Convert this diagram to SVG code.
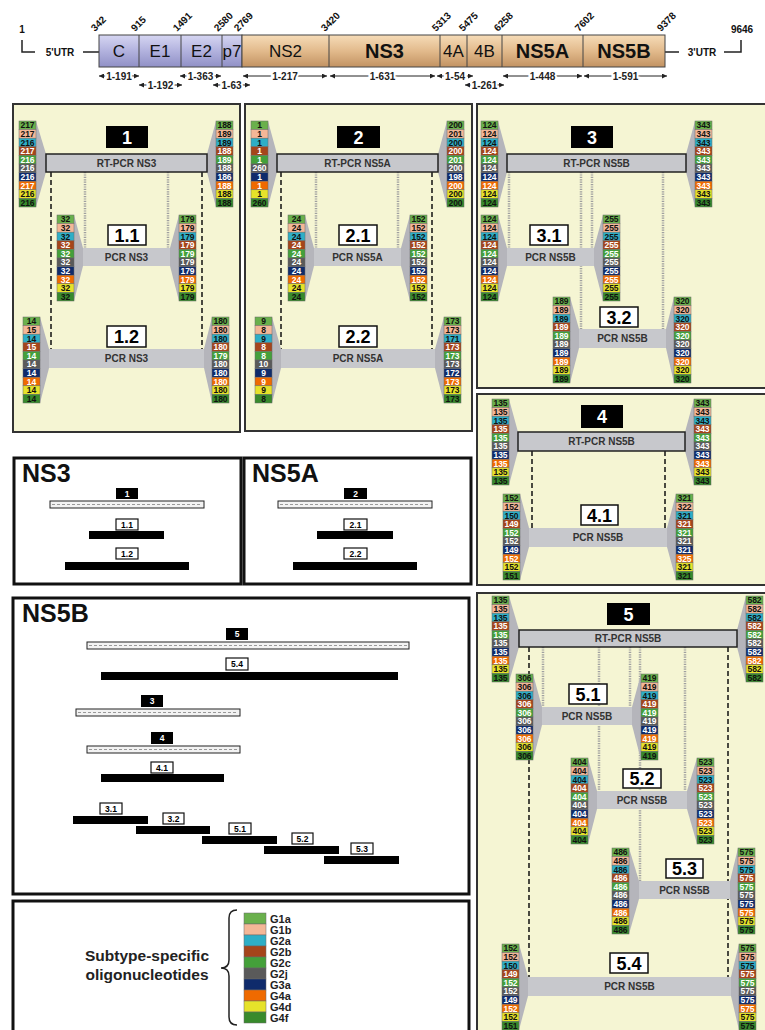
<svg xmlns="http://www.w3.org/2000/svg" xmlns:xlink="http://www.w3.org/1999/xlink" width="765" height="1030" viewBox="0 0 765 1030">
<style>
text{font-family:"Liberation Sans",Arial,sans-serif}
.pan{fill:#f5f5d3;stroke:#333;stroke-width:2}
.box{fill:#fff;stroke:#111;stroke-width:3}
.rt{fill:#c7c8cc;stroke:#222;stroke-width:1.5}
.pcr{fill:#c7c8cc}
.bt{font-size:10px;font-weight:bold;fill:#333;text-anchor:middle}
.blk{fill:#000}
.lab{fill:#fff;stroke:#111;stroke-width:1.5}
.lt{font-size:18px;font-weight:bold;text-anchor:middle;fill:#000}
.lw{font-size:18px;font-weight:bold;text-anchor:middle;fill:#fff}
.fun{fill:#b5b5bb}
.dash{stroke:#111;stroke-width:1.5;stroke-dasharray:5 3;fill:none}
.dot{stroke:#a0a0a0;stroke-width:2.5;stroke-dasharray:1.2 1.2;fill:none}
.k0{fill:#6ab04c}.k1{fill:#f4b797}.k2{fill:#2eaec6}.k3{fill:#a5451b}.k4{fill:#44a03a}
.k5{fill:#5a5a5a}.k6{fill:#0f2b6b}.k7{fill:#ef6a00}.k8{fill:#e6e22a}.k9{fill:#388a2c}
.cb rect{stroke:#6a6a6a;stroke-width:0.5}
.n{font-size:8.5px;font-weight:bold;text-anchor:middle;fill:#111}
.w{fill:#fff}
.gl{font-size:17px;text-anchor:middle;fill:#111}
.gb{font-size:20px;font-weight:bold;text-anchor:middle;fill:#111}
.pos{font-size:10px;font-weight:bold;fill:#111}
.rg{font-size:10px;font-weight:bold;text-anchor:middle;fill:#222;stroke:#fff;stroke-width:4;paint-order:stroke}
.rl{stroke:#222;stroke-width:1;fill:none}
.ttl{font-size:25px;font-weight:bold;fill:#111}
.sb{fill:#000}
.sw{fill:#fff;stroke:#111;stroke-width:1.2}
.dbar{fill:#f2f2f2;stroke:#222;stroke-width:1}
.dl{stroke:#999;stroke-width:1;stroke-dasharray:3 2}
.st{font-size:8.5px;font-weight:bold;text-anchor:middle;fill:#000}
.stw{font-size:8.5px;font-weight:bold;text-anchor:middle;fill:#fff}
.leg{font-size:11px;font-weight:bold;fill:#222}
</style>
<defs>
<linearGradient id="gp" x1="0" y1="0" x2="0" y2="1"><stop offset="0" stop-color="#d6d6f2"/><stop offset="0.5" stop-color="#b2b2de"/><stop offset="1" stop-color="#9090c6"/></linearGradient>
<linearGradient id="gt" x1="0" y1="0" x2="0" y2="1"><stop offset="0" stop-color="#f6dcb8"/><stop offset="0.5" stop-color="#e2ba8c"/><stop offset="1" stop-color="#c29262"/></linearGradient>
<marker id="ah" viewBox="0 0 6 6" refX="6" refY="3" markerWidth="5" markerHeight="5" orient="auto-start-reverse" markerUnits="userSpaceOnUse"><path d="M0,0 L6,3 L0,6z" fill="#222"/></marker>
<g id="cb" class="cb">
<rect class="k0" x="0" y="0" width="17" height="8.6"/>
<rect class="k1" x="0" y="8.6" width="17" height="8.6"/>
<rect class="k2" x="0" y="17.2" width="17" height="8.6"/>
<rect class="k3" x="0" y="25.8" width="17" height="8.6"/>
<rect class="k4" x="0" y="34.4" width="17" height="8.6"/>
<rect class="k5" x="0" y="43" width="17" height="8.6"/>
<rect class="k6" x="0" y="51.6" width="17" height="8.6"/>
<rect class="k7" x="0" y="60.2" width="17" height="8.6"/>
<rect class="k8" x="0" y="68.8" width="17" height="8.6"/>
<rect class="k9" x="0" y="77.4" width="17" height="8.6"/>
</g>
</defs>
<rect width="765" height="1030" fill="#fff"/>

<g id="genome">
<path d="M22,40 V52 H35 M83,52 H99 M665,52 H679 M724,52 H741 V40" stroke="#222" stroke-width="1.5" fill="none"/>
<text x="22" y="33" class="pos" text-anchor="middle" font-size="11">1</text>
<text x="742" y="33" class="pos" text-anchor="middle" font-size="11">9646</text>
<text x="60" y="56" class="pos" text-anchor="middle">5'UTR</text>
<text x="702" y="56" class="pos" text-anchor="middle">3'UTR</text>
<rect x="99" y="35" width="143" height="32" fill="url(#gp)" stroke="#444"/>
<rect x="242" y="35" width="423" height="32" fill="url(#gt)" stroke="#444"/>
<path d="M139,35V67M181,35V67M222,35V67M329,35V67M440,35V67M467,35V67M502,35V67M583,35V67" stroke="#444" stroke-width="1"/>
<text x="119" y="57" class="gl">C</text>
<text x="160" y="57" class="gl">E1</text>
<text x="201.5" y="57" class="gl">E2</text>
<text x="232" y="57" class="gl">p7</text>
<text x="285.5" y="57" class="gl">NS2</text>
<text x="384.5" y="58" class="gb">NS3</text>
<text x="453.5" y="57" class="gl">4A</text>
<text x="484.5" y="57" class="gl">4B</text>
<text x="542.5" y="58" class="gb">NS5A</text>
<text x="624" y="58" class="gb">NS5B</text>
<text class="pos" transform="translate(95,32) rotate(-45)">342</text>
<text class="pos" transform="translate(135,32) rotate(-45)">915</text>
<text class="pos" transform="translate(177,32) rotate(-45)">1491</text>
<text class="pos" transform="translate(218,32) rotate(-45)">2580</text>
<text class="pos" transform="translate(238,32) rotate(-45)">2769</text>
<text class="pos" transform="translate(325,32) rotate(-45)">3420</text>
<text class="pos" transform="translate(436,32) rotate(-45)">5313</text>
<text class="pos" transform="translate(463,32) rotate(-45)">5475</text>
<text class="pos" transform="translate(498,32) rotate(-45)">6258</text>
<text class="pos" transform="translate(579,32) rotate(-45)">7602</text>
<text class="pos" transform="translate(661,32) rotate(-45)">9378</text>
<g marker-start="url(#ah)" marker-end="url(#ah)">
<path class="rl" d="M99,76H139"/><path class="rl" d="M139,85H182"/><path class="rl" d="M180,76H221"/>
<path class="rl" d="M213,85H250"/><path class="rl" d="M243,76H327"/><path class="rl" d="M330,76H435"/>
<path class="rl" d="M437,76H473"/><path class="rl" d="M465,85H504"/><path class="rl" d="M503,76H582"/><path class="rl" d="M584,76H667"/>
</g>
<text x="119" y="79.5" class="rg">1-191</text>
<text x="160.5" y="88.5" class="rg">1-192</text>
<text x="200.5" y="79.5" class="rg">1-363</text>
<text x="231.5" y="88.5" class="rg">1-63</text>
<text x="285" y="79.5" class="rg">1-217</text>
<text x="382.5" y="79.5" class="rg">1-631</text>
<text x="455" y="79.5" class="rg">1-54</text>
<text x="484.5" y="88.5" class="rg">1-261</text>
<text x="542.5" y="79.5" class="rg">1-448</text>
<text x="625.5" y="79.5" class="rg">1-591</text>
</g>

<rect class="pan" x="13" y="104" width="227" height="328"/>
<rect class="pan" x="245" y="104" width="227" height="327"/>
<rect class="pan" x="477" y="104" width="290" height="284"/>
<rect class="pan" x="477" y="394" width="290" height="191"/>
<rect class="pan" x="477" y="593" width="290" height="440"/>

<g id="connectors">
<path class="dash" d="M51,172V349M202,172V349M281,172V349M432,172V349M532,451V528M665,451V528M529,647V977M728,647V977"/>
<path class="dot" d="M85,172V248M168,172V248M316,172V248M398,172V248M509,172V248M592,172V248M581,172V329M663,172V329M543,647V707M630,647V707M599,647V791M685,647V791M640,647V881"/>
</g>

<g id="n1">
<polygon class="fun" points="36,121 46,154 46,172 36,207"/><polygon class="fun" points="216,121 207,154 207,172 216,207"/>
<rect class="rt" x="46" y="154" width="161" height="18"/><text class="bt" x="126.5" y="166.6">RT-PCR NS3</text>
<rect class="blk" x="106" y="126" width="42" height="22"/><text class="lw" x="127" y="143.5">1</text>
<use href="#cb" x="19" y="121"/>
<text class="n" transform="translate(27.5,121)"><tspan x="0" y="7.3">217</tspan><tspan x="0" y="15.9">217</tspan><tspan x="0" y="24.5">216</tspan><tspan x="0" y="33.1" class="w">217</tspan><tspan x="0" y="41.7" class="w">216</tspan><tspan x="0" y="50.3" class="w">216</tspan><tspan x="0" y="58.9" class="w">216</tspan><tspan x="0" y="67.5" class="w">217</tspan><tspan x="0" y="76.1">216</tspan><tspan x="0" y="84.7">216</tspan></text>
<use href="#cb" x="216" y="121"/>
<text class="n" transform="translate(224.5,121)"><tspan x="0" y="7.3">188</tspan><tspan x="0" y="15.9">189</tspan><tspan x="0" y="24.5">189</tspan><tspan x="0" y="33.1" class="w">188</tspan><tspan x="0" y="41.7" class="w">189</tspan><tspan x="0" y="50.3" class="w">188</tspan><tspan x="0" y="58.9" class="w">186</tspan><tspan x="0" y="67.5" class="w">188</tspan><tspan x="0" y="76.1">188</tspan><tspan x="0" y="84.7">188</tspan></text>
</g>
<g id="n1_1">
<polygon class="fun" points="74,215 83,248 83,266 74,301"/><polygon class="fun" points="179,215 170,248 170,266 179,301"/>
<rect class="pcr" x="83" y="248" width="87" height="18"/><text class="bt" x="126.5" y="260.6">PCR NS3</text>
<rect class="lab" x="108" y="225" width="38" height="20"/><text class="lt" x="127" y="241.5">1.1</text>
<use href="#cb" x="57" y="215"/>
<text class="n" transform="translate(65.5,215)"><tspan x="0" y="7.3">32</tspan><tspan x="0" y="15.9">32</tspan><tspan x="0" y="24.5">32</tspan><tspan x="0" y="33.1" class="w">32</tspan><tspan x="0" y="41.7" class="w">32</tspan><tspan x="0" y="50.3" class="w">32</tspan><tspan x="0" y="58.9" class="w">32</tspan><tspan x="0" y="67.5" class="w">32</tspan><tspan x="0" y="76.1">32</tspan><tspan x="0" y="84.7">32</tspan></text>
<use href="#cb" x="179" y="215"/>
<text class="n" transform="translate(187.5,215)"><tspan x="0" y="7.3">179</tspan><tspan x="0" y="15.9">179</tspan><tspan x="0" y="24.5">179</tspan><tspan x="0" y="33.1" class="w">179</tspan><tspan x="0" y="41.7" class="w">179</tspan><tspan x="0" y="50.3" class="w">179</tspan><tspan x="0" y="58.9" class="w">179</tspan><tspan x="0" y="67.5" class="w">179</tspan><tspan x="0" y="76.1">179</tspan><tspan x="0" y="84.7">179</tspan></text>
</g>
<g id="n1_2">
<polygon class="fun" points="40,317 49,349 49,368 40,403"/><polygon class="fun" points="212,317 204,349 204,368 212,403"/>
<rect class="pcr" x="49" y="349" width="155" height="19"/><text class="bt" x="126.5" y="362">PCR NS3</text>
<rect class="lab" x="107" y="326" width="39" height="21"/><text class="lt" x="126.5" y="343">1.2</text>
<use href="#cb" x="23" y="317"/>
<text class="n" transform="translate(31.5,317)"><tspan x="0" y="7.3">14</tspan><tspan x="0" y="15.9">15</tspan><tspan x="0" y="24.5">14</tspan><tspan x="0" y="33.1" class="w">15</tspan><tspan x="0" y="41.7" class="w">14</tspan><tspan x="0" y="50.3" class="w">14</tspan><tspan x="0" y="58.9" class="w">14</tspan><tspan x="0" y="67.5" class="w">14</tspan><tspan x="0" y="76.1">14</tspan><tspan x="0" y="84.7">14</tspan></text>
<use href="#cb" x="212" y="317"/>
<text class="n" transform="translate(220.5,317)"><tspan x="0" y="7.3">180</tspan><tspan x="0" y="15.9">180</tspan><tspan x="0" y="24.5">180</tspan><tspan x="0" y="33.1" class="w">180</tspan><tspan x="0" y="41.7" class="w">179</tspan><tspan x="0" y="50.3" class="w">180</tspan><tspan x="0" y="58.9" class="w">180</tspan><tspan x="0" y="67.5" class="w">180</tspan><tspan x="0" y="76.1">180</tspan><tspan x="0" y="84.7">180</tspan></text>
</g>

<g id="n2">
<polygon class="fun" points="268,121 277,154 277,172 268,207"/><polygon class="fun" points="447,121 438,154 438,172 447,207"/>
<rect class="rt" x="277" y="154" width="161" height="18"/><text class="bt" x="357.5" y="166.6">RT-PCR NS5A</text>
<rect class="blk" x="337" y="126" width="43" height="22"/><text class="lw" x="358.5" y="143.5">2</text>
<use href="#cb" x="251" y="121"/>
<text class="n" transform="translate(259.5,121)"><tspan x="0" y="7.3">1</tspan><tspan x="0" y="15.9">1</tspan><tspan x="0" y="24.5">1</tspan><tspan x="0" y="33.1" class="w">1</tspan><tspan x="0" y="41.7" class="w">1</tspan><tspan x="0" y="50.3" class="w">260</tspan><tspan x="0" y="58.9" class="w">1</tspan><tspan x="0" y="67.5" class="w">1</tspan><tspan x="0" y="76.1">1</tspan><tspan x="0" y="84.7">260</tspan></text>
<use href="#cb" x="447" y="121"/>
<text class="n" transform="translate(455.5,121)"><tspan x="0" y="7.3">200</tspan><tspan x="0" y="15.9">201</tspan><tspan x="0" y="24.5">200</tspan><tspan x="0" y="33.1" class="w">200</tspan><tspan x="0" y="41.7" class="w">201</tspan><tspan x="0" y="50.3" class="w">200</tspan><tspan x="0" y="58.9" class="w">198</tspan><tspan x="0" y="67.5" class="w">200</tspan><tspan x="0" y="76.1">200</tspan><tspan x="0" y="84.7">200</tspan></text>
</g>
<g id="n2_1">
<polygon class="fun" points="305,215 314,248 314,266 305,301"/><polygon class="fun" points="410,215 401,248 401,266 410,301"/>
<rect class="pcr" x="314" y="248" width="87" height="18"/><text class="bt" x="357.5" y="260.6">PCR NS5A</text>
<rect class="lab" x="339" y="225" width="38" height="20"/><text class="lt" x="358" y="241.5">2.1</text>
<use href="#cb" x="288" y="215"/>
<text class="n" transform="translate(296.5,215)"><tspan x="0" y="7.3">24</tspan><tspan x="0" y="15.9">24</tspan><tspan x="0" y="24.5">24</tspan><tspan x="0" y="33.1" class="w">24</tspan><tspan x="0" y="41.7" class="w">24</tspan><tspan x="0" y="50.3" class="w">24</tspan><tspan x="0" y="58.9" class="w">24</tspan><tspan x="0" y="67.5" class="w">24</tspan><tspan x="0" y="76.1">24</tspan><tspan x="0" y="84.7">24</tspan></text>
<use href="#cb" x="410" y="215"/>
<text class="n" transform="translate(418.5,215)"><tspan x="0" y="7.3">152</tspan><tspan x="0" y="15.9">152</tspan><tspan x="0" y="24.5">152</tspan><tspan x="0" y="33.1" class="w">152</tspan><tspan x="0" y="41.7" class="w">152</tspan><tspan x="0" y="50.3" class="w">152</tspan><tspan x="0" y="58.9" class="w">152</tspan><tspan x="0" y="67.5" class="w">152</tspan><tspan x="0" y="76.1">152</tspan><tspan x="0" y="84.7">152</tspan></text>
</g>
<g id="n2_2">
<polygon class="fun" points="272,317 281,349 281,368 272,403"/><polygon class="fun" points="444,317 435,349 435,368 444,403"/>
<rect class="pcr" x="281" y="349" width="154" height="19"/><text class="bt" x="358" y="362">PCR NS5A</text>
<rect class="lab" x="339" y="326" width="38" height="21"/><text class="lt" x="358" y="343">2.2</text>
<use href="#cb" x="255" y="317"/>
<text class="n" transform="translate(263.5,317)"><tspan x="0" y="7.3">9</tspan><tspan x="0" y="15.9">8</tspan><tspan x="0" y="24.5">9</tspan><tspan x="0" y="33.1" class="w">8</tspan><tspan x="0" y="41.7" class="w">8</tspan><tspan x="0" y="50.3" class="w">10</tspan><tspan x="0" y="58.9" class="w">9</tspan><tspan x="0" y="67.5" class="w">9</tspan><tspan x="0" y="76.1">9</tspan><tspan x="0" y="84.7">8</tspan></text>
<use href="#cb" x="444" y="317"/>
<text class="n" transform="translate(452.5,317)"><tspan x="0" y="7.3">173</tspan><tspan x="0" y="15.9">173</tspan><tspan x="0" y="24.5">171</tspan><tspan x="0" y="33.1" class="w">173</tspan><tspan x="0" y="41.7" class="w">173</tspan><tspan x="0" y="50.3" class="w">173</tspan><tspan x="0" y="58.9" class="w">172</tspan><tspan x="0" y="67.5" class="w">173</tspan><tspan x="0" y="76.1">173</tspan><tspan x="0" y="84.7">173</tspan></text>
</g>

<g id="n3">
<polygon class="fun" points="498,121 507,154 507,172 498,207"/><polygon class="fun" points="695,121 686,154 686,172 695,207"/>
<rect class="rt" x="507" y="154" width="179" height="18"/><text class="bt" x="596.5" y="166.6">RT-PCR NS5B</text>
<rect class="blk" x="571" y="126" width="42" height="22"/><text class="lw" x="592" y="143.5">3</text>
<use href="#cb" x="481" y="121"/>
<text class="n" transform="translate(489.5,121)"><tspan x="0" y="7.3">124</tspan><tspan x="0" y="15.9">124</tspan><tspan x="0" y="24.5">124</tspan><tspan x="0" y="33.1" class="w">124</tspan><tspan x="0" y="41.7" class="w">124</tspan><tspan x="0" y="50.3" class="w">124</tspan><tspan x="0" y="58.9" class="w">124</tspan><tspan x="0" y="67.5" class="w">124</tspan><tspan x="0" y="76.1">124</tspan><tspan x="0" y="84.7">124</tspan></text>
<use href="#cb" x="695" y="121"/>
<text class="n" transform="translate(703.5,121)"><tspan x="0" y="7.3">343</tspan><tspan x="0" y="15.9">343</tspan><tspan x="0" y="24.5">343</tspan><tspan x="0" y="33.1" class="w">343</tspan><tspan x="0" y="41.7" class="w">343</tspan><tspan x="0" y="50.3" class="w">343</tspan><tspan x="0" y="58.9" class="w">343</tspan><tspan x="0" y="67.5" class="w">343</tspan><tspan x="0" y="76.1">343</tspan><tspan x="0" y="84.7">343</tspan></text>
</g>
<g id="n3_1">
<polygon class="fun" points="498,215 507,248 507,266 498,301"/><polygon class="fun" points="603,215 594,248 594,266 603,301"/>
<rect class="pcr" x="507" y="248" width="87" height="18"/><text class="bt" x="550.5" y="260.6">PCR NS5B</text>
<rect class="lab" x="530" y="225" width="38" height="20"/><text class="lt" x="549" y="241.5">3.1</text>
<use href="#cb" x="481" y="215"/>
<text class="n" transform="translate(489.5,215)"><tspan x="0" y="7.3">124</tspan><tspan x="0" y="15.9">124</tspan><tspan x="0" y="24.5">124</tspan><tspan x="0" y="33.1" class="w">124</tspan><tspan x="0" y="41.7" class="w">124</tspan><tspan x="0" y="50.3" class="w">124</tspan><tspan x="0" y="58.9" class="w">124</tspan><tspan x="0" y="67.5" class="w">124</tspan><tspan x="0" y="76.1">124</tspan><tspan x="0" y="84.7">124</tspan></text>
<use href="#cb" x="603" y="215"/>
<text class="n" transform="translate(611.5,215)"><tspan x="0" y="7.3">255</tspan><tspan x="0" y="15.9">255</tspan><tspan x="0" y="24.5">255</tspan><tspan x="0" y="33.1" class="w">255</tspan><tspan x="0" y="41.7" class="w">255</tspan><tspan x="0" y="50.3" class="w">255</tspan><tspan x="0" y="58.9" class="w">255</tspan><tspan x="0" y="67.5" class="w">255</tspan><tspan x="0" y="76.1">255</tspan><tspan x="0" y="84.7">255</tspan></text>
</g>
<g id="n3_2">
<polygon class="fun" points="570,297 579,329 579,348 570,383"/><polygon class="fun" points="674,297 666,329 666,348 674,383"/>
<rect class="pcr" x="579" y="329" width="87" height="19"/><text class="bt" x="622.5" y="342">PCR NS5B</text>
<rect class="lab" x="600" y="307" width="38" height="20"/><text class="lt" x="619" y="323.5">3.2</text>
<use href="#cb" x="553" y="297"/>
<text class="n" transform="translate(561.5,297)"><tspan x="0" y="7.3">189</tspan><tspan x="0" y="15.9">189</tspan><tspan x="0" y="24.5">189</tspan><tspan x="0" y="33.1" class="w">189</tspan><tspan x="0" y="41.7" class="w">189</tspan><tspan x="0" y="50.3" class="w">189</tspan><tspan x="0" y="58.9" class="w">189</tspan><tspan x="0" y="67.5" class="w">189</tspan><tspan x="0" y="76.1">189</tspan><tspan x="0" y="84.7">189</tspan></text>
<use href="#cb" x="674" y="297"/>
<text class="n" transform="translate(682.5,297)"><tspan x="0" y="7.3">320</tspan><tspan x="0" y="15.9">320</tspan><tspan x="0" y="24.5">320</tspan><tspan x="0" y="33.1" class="w">320</tspan><tspan x="0" y="41.7" class="w">320</tspan><tspan x="0" y="50.3" class="w">320</tspan><tspan x="0" y="58.9" class="w">320</tspan><tspan x="0" y="67.5" class="w">320</tspan><tspan x="0" y="76.1">320</tspan><tspan x="0" y="84.7">320</tspan></text>
</g>

<g id="n4">
<polygon class="fun" points="509,399 518,432 518,451 509,485"/><polygon class="fun" points="694,399 685,432 685,451 694,485"/>
<rect class="rt" x="518" y="432" width="167" height="19"/><text class="bt" x="601.5" y="445">RT-PCR NS5B</text>
<rect class="blk" x="581" y="405" width="42" height="23"/><text class="lw" x="602" y="423">4</text>
<use href="#cb" x="492" y="399"/>
<text class="n" transform="translate(500.5,399)"><tspan x="0" y="7.3">135</tspan><tspan x="0" y="15.9">135</tspan><tspan x="0" y="24.5">135</tspan><tspan x="0" y="33.1" class="w">135</tspan><tspan x="0" y="41.7" class="w">135</tspan><tspan x="0" y="50.3" class="w">135</tspan><tspan x="0" y="58.9" class="w">135</tspan><tspan x="0" y="67.5" class="w">135</tspan><tspan x="0" y="76.1">135</tspan><tspan x="0" y="84.7">135</tspan></text>
<use href="#cb" x="694" y="399"/>
<text class="n" transform="translate(702.5,399)"><tspan x="0" y="7.3">343</tspan><tspan x="0" y="15.9">343</tspan><tspan x="0" y="24.5">343</tspan><tspan x="0" y="33.1" class="w">343</tspan><tspan x="0" y="41.7" class="w">343</tspan><tspan x="0" y="50.3" class="w">343</tspan><tspan x="0" y="58.9" class="w">343</tspan><tspan x="0" y="67.5" class="w">343</tspan><tspan x="0" y="76.1">343</tspan><tspan x="0" y="84.7">343</tspan></text>
</g>
<g id="n4_1">
<polygon class="fun" points="520,494 529,528 529,547 520,580"/><polygon class="fun" points="676,494 667,528 667,547 676,580"/>
<rect class="pcr" x="529" y="528" width="138" height="19"/><text class="bt" x="598" y="541">PCR NS5B</text>
<rect class="lab" x="581" y="505" width="37" height="20"/><text class="lt" x="599.5" y="521.5">4.1</text>
<use href="#cb" x="503" y="494"/>
<text class="n" transform="translate(511.5,494)"><tspan x="0" y="7.3">152</tspan><tspan x="0" y="15.9">152</tspan><tspan x="0" y="24.5">150</tspan><tspan x="0" y="33.1" class="w">149</tspan><tspan x="0" y="41.7" class="w">152</tspan><tspan x="0" y="50.3" class="w">152</tspan><tspan x="0" y="58.9" class="w">149</tspan><tspan x="0" y="67.5" class="w">152</tspan><tspan x="0" y="76.1">152</tspan><tspan x="0" y="84.7">151</tspan></text>
<use href="#cb" x="676" y="494"/>
<text class="n" transform="translate(684.5,494)"><tspan x="0" y="7.3">321</tspan><tspan x="0" y="15.9">322</tspan><tspan x="0" y="24.5">321</tspan><tspan x="0" y="33.1" class="w">321</tspan><tspan x="0" y="41.7" class="w">321</tspan><tspan x="0" y="50.3" class="w">321</tspan><tspan x="0" y="58.9" class="w">321</tspan><tspan x="0" y="67.5" class="w">325</tspan><tspan x="0" y="76.1">321</tspan><tspan x="0" y="84.7">321</tspan></text>
</g>

<g id="n5">
<polygon class="fun" points="509,596 519,630 519,647 509,682"/><polygon class="fun" points="746,596 737,630 737,647 746,682"/>
<rect class="rt" x="519" y="630" width="218" height="17"/><text class="bt" x="628" y="642">RT-PCR NS5B</text>
<rect class="blk" x="607" y="603" width="43" height="22"/><text class="lw" x="628.5" y="620.5">5</text>
<use href="#cb" x="492" y="596"/>
<text class="n" transform="translate(500.5,596)"><tspan x="0" y="7.3">135</tspan><tspan x="0" y="15.9">135</tspan><tspan x="0" y="24.5">135</tspan><tspan x="0" y="33.1" class="w">135</tspan><tspan x="0" y="41.7" class="w">135</tspan><tspan x="0" y="50.3" class="w">135</tspan><tspan x="0" y="58.9" class="w">135</tspan><tspan x="0" y="67.5" class="w">135</tspan><tspan x="0" y="76.1">135</tspan><tspan x="0" y="84.7">135</tspan></text>
<use href="#cb" x="746" y="596"/>
<text class="n" transform="translate(754.5,596)"><tspan x="0" y="7.3">582</tspan><tspan x="0" y="15.9">582</tspan><tspan x="0" y="24.5">582</tspan><tspan x="0" y="33.1" class="w">582</tspan><tspan x="0" y="41.7" class="w">582</tspan><tspan x="0" y="50.3" class="w">582</tspan><tspan x="0" y="58.9" class="w">582</tspan><tspan x="0" y="67.5" class="w">582</tspan><tspan x="0" y="76.1">582</tspan><tspan x="0" y="84.7">582</tspan></text>
</g>
<g id="n5_1">
<polygon class="fun" points="533,674 542,707 542,725 533,760"/><polygon class="fun" points="641,674 632,707 632,725 641,760"/>
<rect class="pcr" x="542" y="707" width="90" height="18"/><text class="bt" x="587" y="719.6">PCR NS5B</text>
<rect class="lab" x="569" y="684" width="38" height="20"/><text class="lt" x="588" y="700.5">5.1</text>
<use href="#cb" x="516" y="674"/>
<text class="n" transform="translate(524.5,674)"><tspan x="0" y="7.3">306</tspan><tspan x="0" y="15.9">306</tspan><tspan x="0" y="24.5">306</tspan><tspan x="0" y="33.1" class="w">306</tspan><tspan x="0" y="41.7" class="w">306</tspan><tspan x="0" y="50.3" class="w">306</tspan><tspan x="0" y="58.9" class="w">306</tspan><tspan x="0" y="67.5" class="w">306</tspan><tspan x="0" y="76.1">306</tspan><tspan x="0" y="84.7">306</tspan></text>
<use href="#cb" x="641" y="674"/>
<text class="n" transform="translate(649.5,674)"><tspan x="0" y="7.3">419</tspan><tspan x="0" y="15.9">419</tspan><tspan x="0" y="24.5">419</tspan><tspan x="0" y="33.1" class="w">419</tspan><tspan x="0" y="41.7" class="w">419</tspan><tspan x="0" y="50.3" class="w">419</tspan><tspan x="0" y="58.9" class="w">419</tspan><tspan x="0" y="67.5" class="w">419</tspan><tspan x="0" y="76.1">419</tspan><tspan x="0" y="84.7">419</tspan></text>
</g>
<g id="n5_2">
<polygon class="fun" points="588,758 597,791 597,809 588,844"/><polygon class="fun" points="697,758 687,791 687,809 697,844"/>
<rect class="pcr" x="597" y="791" width="90" height="18"/><text class="bt" x="642" y="803.6">PCR NS5B</text>
<rect class="lab" x="623" y="769" width="38" height="19"/><text class="lt" x="642" y="785">5.2</text>
<use href="#cb" x="571" y="758"/>
<text class="n" transform="translate(579.5,758)"><tspan x="0" y="7.3">404</tspan><tspan x="0" y="15.9">404</tspan><tspan x="0" y="24.5">404</tspan><tspan x="0" y="33.1" class="w">404</tspan><tspan x="0" y="41.7" class="w">404</tspan><tspan x="0" y="50.3" class="w">404</tspan><tspan x="0" y="58.9" class="w">404</tspan><tspan x="0" y="67.5" class="w">404</tspan><tspan x="0" y="76.1">404</tspan><tspan x="0" y="84.7">404</tspan></text>
<use href="#cb" x="697" y="758"/>
<text class="n" transform="translate(705.5,758)"><tspan x="0" y="7.3">523</tspan><tspan x="0" y="15.9">523</tspan><tspan x="0" y="24.5">523</tspan><tspan x="0" y="33.1" class="w">523</tspan><tspan x="0" y="41.7" class="w">523</tspan><tspan x="0" y="50.3" class="w">523</tspan><tspan x="0" y="58.9" class="w">523</tspan><tspan x="0" y="67.5" class="w">523</tspan><tspan x="0" y="76.1">523</tspan><tspan x="0" y="84.7">523</tspan></text>
</g>
<g id="n5_3">
<polygon class="fun" points="629,848 639,881 639,899 629,934"/><polygon class="fun" points="738,848 730,881 730,899 738,934"/>
<rect class="pcr" x="639" y="881" width="91" height="18"/><text class="bt" x="684.5" y="893.6">PCR NS5B</text>
<rect class="lab" x="666" y="859" width="37" height="19"/><text class="lt" x="684.5" y="875">5.3</text>
<use href="#cb" x="612" y="848"/>
<text class="n" transform="translate(620.5,848)"><tspan x="0" y="7.3">486</tspan><tspan x="0" y="15.9">486</tspan><tspan x="0" y="24.5">486</tspan><tspan x="0" y="33.1" class="w">486</tspan><tspan x="0" y="41.7" class="w">486</tspan><tspan x="0" y="50.3" class="w">486</tspan><tspan x="0" y="58.9" class="w">486</tspan><tspan x="0" y="67.5" class="w">486</tspan><tspan x="0" y="76.1">486</tspan><tspan x="0" y="84.7">486</tspan></text>
<use href="#cb" x="738" y="848"/>
<text class="n" transform="translate(746.5,848)"><tspan x="0" y="7.3">575</tspan><tspan x="0" y="15.9">575</tspan><tspan x="0" y="24.5">575</tspan><tspan x="0" y="33.1" class="w">575</tspan><tspan x="0" y="41.7" class="w">575</tspan><tspan x="0" y="50.3" class="w">575</tspan><tspan x="0" y="58.9" class="w">575</tspan><tspan x="0" y="67.5" class="w">575</tspan><tspan x="0" y="76.1">575</tspan><tspan x="0" y="84.7">575</tspan></text>
</g>
<g id="n5_4">
<polygon class="fun" points="519,944 528,977 528,996 519,1030"/><polygon class="fun" points="739,944 731,977 731,996 739,1030"/>
<rect class="pcr" x="528" y="977" width="203" height="19"/><text class="bt" x="629.5" y="990">PCR NS5B</text>
<rect class="lab" x="610" y="953" width="38" height="20"/><text class="lt" x="629" y="969.5">5.4</text>
<use href="#cb" x="502" y="944"/>
<text class="n" transform="translate(510.5,944)"><tspan x="0" y="7.3">152</tspan><tspan x="0" y="15.9">152</tspan><tspan x="0" y="24.5">150</tspan><tspan x="0" y="33.1" class="w">149</tspan><tspan x="0" y="41.7" class="w">152</tspan><tspan x="0" y="50.3" class="w">152</tspan><tspan x="0" y="58.9" class="w">149</tspan><tspan x="0" y="67.5" class="w">152</tspan><tspan x="0" y="76.1">152</tspan><tspan x="0" y="84.7">151</tspan></text>
<use href="#cb" x="739" y="944"/>
<text class="n" transform="translate(747.5,944)"><tspan x="0" y="7.3">575</tspan><tspan x="0" y="15.9">575</tspan><tspan x="0" y="24.5">575</tspan><tspan x="0" y="33.1" class="w">575</tspan><tspan x="0" y="41.7" class="w">575</tspan><tspan x="0" y="50.3" class="w">575</tspan><tspan x="0" y="58.9" class="w">575</tspan><tspan x="0" y="67.5" class="w">575</tspan><tspan x="0" y="76.1">575</tspan><tspan x="0" y="84.7">575</tspan></text>
</g>

<g id="sum_ns3">
<rect class="box" x="14" y="458" width="227" height="126"/>
<text class="ttl" x="22" y="482">NS3</text>
<rect class="sb" x="116" y="488" width="22" height="11"/><text class="stw" x="127" y="496.5">1</text>
<rect class="dbar" x="50" y="501" width="154" height="7"/><line class="dl" x1="52" y1="504.5" x2="202" y2="504.5"/>
<rect class="sw" x="116" y="519" width="22" height="11"/><text class="st" x="127" y="527.5">1.1</text>
<rect class="sb" x="89" y="531" width="75" height="8"/>
<rect class="sw" x="116" y="548" width="22" height="11"/><text class="st" x="127" y="556.5">1.2</text>
<rect class="sb" x="65" y="562" width="124" height="8"/>
</g>
<g id="sum_ns5a">
<rect class="box" x="244" y="458" width="227" height="126"/>
<text class="ttl" x="252" y="482">NS5A</text>
<rect class="sb" x="344" y="488" width="23" height="11"/><text class="stw" x="355.5" y="496.5">2</text>
<rect class="dbar" x="278" y="501" width="154" height="7"/><line class="dl" x1="280" y1="504.5" x2="430" y2="504.5"/>
<rect class="sw" x="344" y="519" width="23" height="11"/><text class="st" x="355.5" y="527.5">2.1</text>
<rect class="sb" x="317" y="531" width="76" height="8"/>
<rect class="sw" x="344" y="548" width="23" height="11"/><text class="st" x="355.5" y="556.5">2.2</text>
<rect class="sb" x="293" y="562" width="124" height="8"/>
</g>
<g id="sum_ns5b">
<rect class="box" x="13" y="598" width="456" height="296"/>
<text class="ttl" x="22" y="622">NS5B</text>
<rect class="sb" x="226" y="628" width="22" height="12"/><text class="stw" x="237" y="637">5</text>
<rect class="dbar" x="87" y="642" width="322" height="7"/><line class="dl" x1="89" y1="645.5" x2="407" y2="645.5"/>
<rect class="sw" x="226" y="658" width="22" height="12"/><text class="st" x="237" y="667">5.4</text>
<rect class="sb" x="101" y="672" width="297" height="8"/>
<rect class="sb" x="141" y="695" width="22" height="12"/><text class="stw" x="152" y="704">3</text>
<rect class="dbar" x="76" y="709" width="164" height="7"/><line class="dl" x1="78" y1="712.5" x2="238" y2="712.5"/>
<rect class="sb" x="151" y="732" width="22" height="12"/><text class="stw" x="162" y="741">4</text>
<rect class="dbar" x="87" y="746" width="153" height="7"/><line class="dl" x1="89" y1="749.5" x2="238" y2="749.5"/>
<rect class="sw" x="151" y="762" width="22" height="11"/><text class="st" x="162" y="770.5">4.1</text>
<rect class="sb" x="101" y="774" width="123" height="8"/>
<rect class="sw" x="100" y="803" width="22" height="11"/><text class="st" x="111" y="811.5">3.1</text>
<rect class="sb" x="73" y="816" width="75" height="8"/>
<rect class="sw" x="163" y="813" width="21" height="11"/><text class="st" x="173.5" y="821.5">3.2</text>
<rect class="sb" x="136" y="826" width="74" height="8"/>
<rect class="sw" x="229" y="823" width="22" height="11"/><text class="st" x="240" y="831.5">5.1</text>
<rect class="sb" x="202" y="836" width="75" height="8"/>
<rect class="sw" x="292" y="833" width="21" height="11"/><text class="st" x="302.5" y="841.5">5.2</text>
<rect class="sb" x="264" y="846" width="75" height="8"/>
<rect class="sw" x="351" y="843" width="22" height="11"/><text class="st" x="362" y="851.5">5.3</text>
<rect class="sb" x="324" y="856" width="75" height="8"/>
</g>

<g id="legend">
<rect class="box" x="13" y="901" width="456" height="140"/>
<text x="147" y="961" font-size="15.5" font-weight="bold" text-anchor="middle" fill="#222">Subtype-specific</text>
<text x="147" y="980" font-size="15.5" font-weight="bold" text-anchor="middle" fill="#222">oligonucleotides</text>
<path d="M237,910 Q229,910 229,918 L229,960 Q229,968 221,968 Q229,968 229,976 L229,1017 Q229,1025 237,1025" stroke="#222" stroke-width="1.5" fill="none"/>
<g class="cb">
<rect class="k0" x="244" y="913" width="22" height="11"/>
<rect class="k1" x="244" y="924" width="22" height="11"/>
<rect class="k2" x="244" y="935" width="22" height="11"/>
<rect class="k3" x="244" y="946" width="22" height="11"/>
<rect class="k4" x="244" y="957" width="22" height="11"/>
<rect class="k5" x="244" y="968" width="22" height="11"/>
<rect class="k6" x="244" y="979" width="22" height="11"/>
<rect class="k7" x="244" y="990" width="22" height="11"/>
<rect class="k8" x="244" y="1001" width="22" height="11"/>
<rect class="k9" x="244" y="1012" width="22" height="11"/>
</g>
<text class="leg" x="270" y="922.5">G1a</text>
<text class="leg" x="270" y="933.5">G1b</text>
<text class="leg" x="270" y="944.5">G2a</text>
<text class="leg" x="270" y="955.5">G2b</text>
<text class="leg" x="270" y="966.5">G2c</text>
<text class="leg" x="270" y="977.5">G2j</text>
<text class="leg" x="270" y="988.5">G3a</text>
<text class="leg" x="270" y="999.5">G4a</text>
<text class="leg" x="270" y="1010.5">G4d</text>
<text class="leg" x="270" y="1021.5">G4f</text>
</g>
</svg>
